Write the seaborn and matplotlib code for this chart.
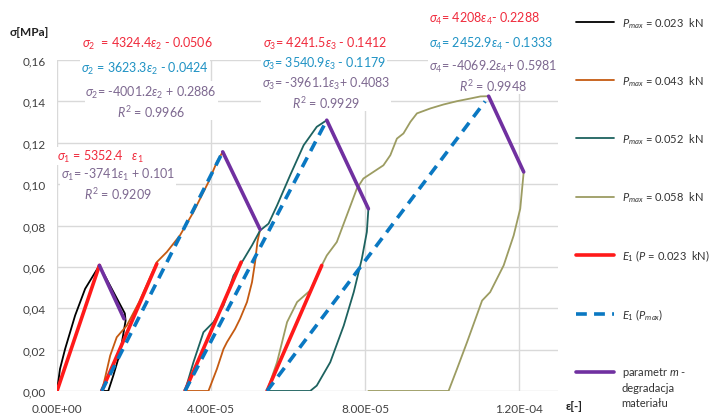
import pandas as pd
import matplotlib
matplotlib.use("Agg")
import matplotlib.pyplot as plt
from matplotlib.lines import Line2D
import seaborn as sns


# ── values ───────────────────────────────────────────────────────────────────
# P_max = 0.023 kN (black)
eps_p023 = [0.0, 0.078e-5, 0.21e-5, 0.47e-5, 0.73e-5, 1.10e-5,
            1.76e-5, 1.78e-5, 1.64e-5, 1.46e-5, 1.33e-5, 1.16e-5]
sig_p023 = [0.0, 0.0107, 0.0203, 0.0365, 0.0494, 0.0607,
            0.0375, 0.034, 0.0187, 0.0074, 0.0, 0.0]

# P_max = 0.043 kN (orange)
eps_p043 = [1.16e-5, 1.20e-5, 1.38e-5, 1.55e-5, 1.81e-5, 2.13e-5, 2.59e-5,
            2.85e-5, 3.19e-5, 3.54e-5, 3.93e-5, 4.15e-5, 4.30e-5,
            5.27e-5, 5.20e-5, 5.14e-5, 5.06e-5, 4.93e-5, 4.75e-5, 4.62e-5,
            4.41e-5, 4.32e-5, 4.15e-5, 3.93e-5, 3.32e-5]
sig_p043 = [0.0, 0.0026, 0.0171, 0.026, 0.0316, 0.043, 0.0623,
            0.0672, 0.0752, 0.0865, 0.101, 0.1108, 0.1156,
            0.0781, 0.072, 0.0623, 0.0526, 0.043, 0.0349, 0.030,
            0.0236, 0.0203, 0.0107, 0.0, 0.0]

# P_max = 0.052 kN (teal)
eps_p052 = [3.32e-5, 3.54e-5, 3.80e-5, 4.06e-5, 4.32e-5, 4.58e-5, 4.80e-5,
            5.06e-5, 5.27e-5, 5.49e-5, 5.71e-5, 6.05e-5, 6.40e-5, 6.74e-5,
            7.00e-5, 8.08e-5, 8.04e-5, 7.91e-5, 7.70e-5, 7.44e-5, 7.09e-5,
            6.74e-5, 6.57e-5, 5.45e-5]
sig_p052 = [0.0, 0.0139, 0.0284, 0.0333, 0.0413, 0.0558, 0.0623,
            0.0704, 0.0776, 0.0809, 0.0897, 0.1043, 0.1188, 0.1277,
            0.1309, 0.0881, 0.0769, 0.0639, 0.0478, 0.0316, 0.0139,
            0.0026, 0.0, 0.0]

# P_max = 0.058 kN (olive)
eps_p058 = [5.45e-5, 5.71e-5, 5.97e-5, 6.23e-5, 6.57e-5, 6.87e-5, 7.00e-5,
            7.26e-5, 7.52e-5, 7.78e-5, 7.95e-5, 8.21e-5, 8.47e-5, 8.65e-5,
            8.82e-5, 8.99e-5, 9.17e-5, 9.34e-5, 9.69e-5, 10.03e-5, 10.38e-5,
            10.73e-5, 10.99e-5, 11.20e-5, 12.11e-5, 12.02e-5, 11.85e-5,
            11.59e-5, 11.24e-5, 11.03e-5, 10.64e-5, 10.38e-5, 10.16e-5, 8.08e-5]
sig_p058 = [0.0, 0.0139, 0.0333, 0.043, 0.0486, 0.0607, 0.0655,
            0.072, 0.0849, 0.0978, 0.1027, 0.1059, 0.1091, 0.114,
            0.122, 0.1245, 0.1301, 0.1342, 0.1366, 0.1385, 0.1401,
            0.1414, 0.1424, 0.1425, 0.1059, 0.0881, 0.0752,
            0.0607, 0.0478, 0.0437, 0.0236, 0.0107, 0.0, 0.0]

# E1 (P = 0.023 kN) fits, red
e1_eps_start = [0.0, 1.16e-5, 3.32e-5, 5.45e-5]
e1_sig_start = [0.0, 0.0, 0.0, 0.0]
e1_eps_end = [1.10e-5, 2.59e-5, 4.78e-5, 6.87e-5]
e1_sig_end = [0.0607, 0.0615, 0.0623, 0.0607]

# E1 (P_max) fits, blue dashed
emax_eps_start = [1.16e-5, 3.32e-5, 5.45e-5]
emax_sig_start = [0.0, 0.0, 0.0]
emax_eps_end = [4.30e-5, 7.00e-5, 11.11e-5]
emax_sig_end = [0.1156, 0.1309, 0.140]

# parameter m (degradation), purple
m_eps_start = [1.10e-5, 4.30e-5, 7.00e-5, 11.20e-5]
m_sig_start = [0.0607, 0.1156, 0.1309, 0.1425]
m_eps_end = [1.74e-5, 5.27e-5, 8.08e-5, 12.11e-5]
m_sig_end = [0.0349, 0.0781, 0.0881, 0.1059]

curve_names = ["0.023", "0.043", "0.052", "0.058"]
xticks = [0.0, 4e-5, 8e-5, 1.2e-4]
xtick_labels = ["0,00E+00", "4,00E-05", "8,00E-05", "1,20E-04"]
yticks = [0.0, 0.02, 0.04, 0.06, 0.08, 0.10, 0.12, 0.14, 0.16]
ytick_labels = ["0,00", "0,02", "0,04", "0,06", "0,08", "0,10", "0,12", "0,14", "0,16"]

curve_colors = ["#000000", "#c55a11", "#1d625f", "#9c9c62"]
c_red, c_blue, c_purple = "#ff1a1a", "#0a78c2", "#7030a0"
t_red, t_blue, t_purple = "#f02a3c", "#1f92c4", "#7d6890"
dash = [3.0, 2.0]


def segments(eps0, sig0, eps1, sig1):
    rows = []
    for i, (a, b, c, d) in enumerate(zip(eps0, sig0, eps1, sig1)):
        rows.append({"seg": i, "eps": a, "sigma": b})
        rows.append({"seg": i, "eps": c, "sigma": d})
    return pd.DataFrame(rows)


curve_df = pd.concat([
    pd.DataFrame({"series": name, "eps": e, "sigma": s})
    for name, e, s in zip(curve_names,
                          [eps_p023, eps_p043, eps_p052, eps_p058],
                          [sig_p023, sig_p043, sig_p052, sig_p058])
], ignore_index=True)

sns.set_theme(style="white")
plt.rcParams["font.family"] = ["Lato", "DejaVu Sans"]
plt.rcParams["mathtext.fontset"] = "custom"
plt.rcParams["mathtext.rm"] = "Lato"
plt.rcParams["mathtext.it"] = "Lato:italic"
plt.rcParams["mathtext.bf"] = "Lato:bold"
plt.rcParams["mathtext.fallback"] = "stixsans"

fig = plt.figure(figsize=(7.15, 4.14), dpi=100)
ax = fig.add_axes([57 / 715, 22 / 414, 501 / 715, 331 / 414])

sns.lineplot(data=curve_df, x="eps", y="sigma", hue="series", units="series",
             palette=curve_colors, estimator=None, sort=False, lw=1.3,
             legend=False, ax=ax)
sns.lineplot(data=segments(e1_eps_start, e1_sig_start, e1_eps_end, e1_sig_end),
             x="eps", y="sigma", units="seg", estimator=None, sort=False,
             color=c_red, lw=2.6, legend=False, ax=ax)
n_before = len(ax.lines)
sns.lineplot(data=segments(emax_eps_start, emax_sig_start, emax_eps_end, emax_sig_end),
             x="eps", y="sigma", units="seg", estimator=None, sort=False,
             color=c_blue, lw=2.6, legend=False, ax=ax)
for ln in ax.lines[n_before:]:
    ln.set_dashes(dash)
sns.lineplot(data=segments(m_eps_start, m_sig_start, m_eps_end, m_sig_end),
             x="eps", y="sigma", units="seg", estimator=None, sort=False,
             color=c_purple, lw=2.6, legend=False, ax=ax)

ax.set_xlim(0, 1.3e-4)
ax.set_ylim(0, 0.16)
ax.set_xticks(xticks)
ax.set_xticklabels(xtick_labels)
ax.set_yticks(yticks)
ax.set_yticklabels(ytick_labels)
ax.set_xlabel("")
ax.set_ylabel("")
ax.grid(True, color="#d9d9d9", lw=1)
ax.set_axisbelow(True)
for sp in ax.spines.values():
    sp.set_visible(False)
ax.tick_params(length=0, labelsize=8.5, colors="#404040", pad=8)

fig.text(10 / 715, 1 - 32 / 414, "σ[MPa]", fontsize=8.5, fontweight="bold",
         color="#222222", va="center", ha="left")
fig.text(566 / 715, 1 - 407 / 414, "ε[-]", fontsize=8.5, fontweight="bold",
         color="#222222", va="center", ha="left")

# fitted equations (later entries are drawn on top)
box = dict(facecolor="white", edgecolor="none", pad=0.6)
eqs = [
    (0.122, 0.628, "$\\sigma_1$= -3741$\\varepsilon_1$ + 0.101\n$R^2$ = 0.9209", t_purple),
    (0.086, 0.710, r"$\sigma_1$ = 5352.4   $\varepsilon_1$", t_red),
    (0.188, 0.875, "$\\sigma_2$= -4001.2$\\varepsilon_2$ + 0.2886\n$R^2$ = 0.9966", t_purple),
    (0.176, 0.976, r"$\sigma_2$ = 3623.3$\varepsilon_2$ - 0.0424", t_blue),
    (0.180, 1.051, r"$\sigma_2$  = 4324.4$\varepsilon_2$ - 0.0506", t_red),
    (0.537, 0.902, "$\\sigma_3$= -3961.1$\\varepsilon_3$+ 0.4083\n$R^2$ = 0.9929", t_purple),
    (0.533, 0.991, r"$\sigma_3$= 3540.9$\varepsilon_3$ - 0.1179", t_blue),
    (0.535, 1.051, r"$\sigma_3$= 4241.5$\varepsilon_3$ - 0.1412", t_red),
    (0.870, 0.953, "$\\sigma_4$= -4069.2$\\varepsilon_4$+ 0.5981\n$R^2$ = 0.9948", t_purple),
    (0.866, 1.051, r"$\sigma_4$= 2452.9$\varepsilon_4$ - 0.1333", t_blue),
    (0.854, 1.127, r"$\sigma_4$= 4208$\varepsilon_4$- 0.2288", t_red),
]
for x, y, s, c in eqs:
    ax.text(x, y, s, transform=ax.transAxes, ha="center", va="center",
            color=c, fontsize=9, bbox=box, clip_on=False, linespacing=1.2,
            multialignment="center")

handles = [Line2D([], [], color=c, lw=1.3) for c in curve_colors]
handles += [Line2D([], [], color=c_red, lw=2.6),
            Line2D([], [], color=c_blue, lw=2.6, dashes=dash),
            Line2D([], [], color=c_purple, lw=2.6)]
labels = [rf"$P_{{max}}$ = {n}  kN" for n in curve_names]
labels += [r"$E_1$ ($P$ = 0.023  kN)", r"$E_1$ ($P_{max}$)", "parametr $m$ -"]
leg = fig.legend(handles, labels, loc="upper left",
                 bbox_to_anchor=(566 / 715, 1 - 6 / 414), frameon=False,
                 fontsize=8, handlelength=3.4, handletextpad=0.7,
                 labelspacing=3.9, labelcolor="#333333")

# the last legend label wraps onto two more lines below its handle
fig.canvas.draw()
last = leg.get_texts()[-1].get_window_extent().transformed(fig.transFigure.inverted())
fig.text(last.x0, last.y0 - 0.006, "degradacja\nmateriału", fontsize=8,
         color="#333333", ha="left", va="top", linespacing=1.45)

fig.savefig("out.png", dpi=100)
